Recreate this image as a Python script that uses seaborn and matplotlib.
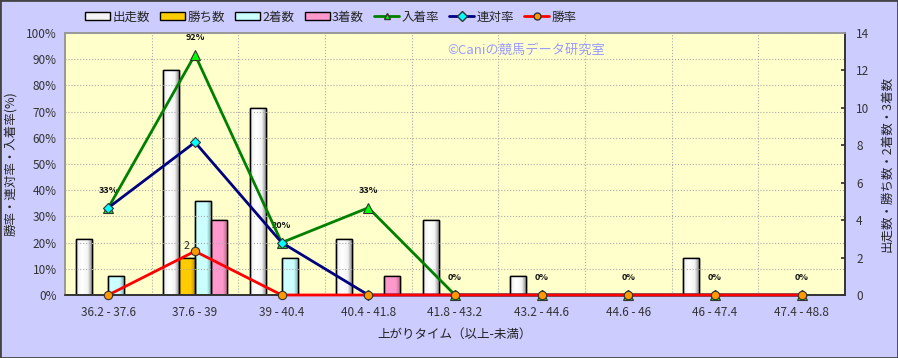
import matplotlib
matplotlib.use("Agg")
import matplotlib.pyplot as plt
import numpy as np
import pandas as pd
import seaborn as sns
from matplotlib.colors import LinearSegmentedColormap
from matplotlib.lines import Line2D
from matplotlib.patches import Rectangle
from matplotlib.ticker import MultipleLocator, PercentFormatter

# --- data ---
categories = ["36.2 - 37.6", "37.6 - 39", "39 - 40.4", "40.4 - 41.8", "41.8 - 43.2",
              "43.2 - 44.6", "44.6 - 46", "46 - 47.4", "47.4 - 48.8"]
starts = [3, 12, 10, 3, 4, 1, 0, 2, 0]
wins = [0, 2, 0, 0, 0, 0, 0, 0, 0]
seconds = [1, 5, 2, 0, 0, 0, 0, 0, 0]
thirds = [0, 4, 0, 1, 0, 0, 0, 0, 0]
place_rate = [0.333, 0.917, 0.20, 0.333, 0, 0, 0, 0, 0]
quinella_rate = [0.333, 0.583, 0.20, 0, 0, 0, 0, 0, 0]
win_rate = [0, 0.167, 0, 0, 0, 0, 0, 0, 0]
place_labels = ["33%", "92%", "20%", "33%", "0%", "0%", "0%", "0%", "0%"]

bar_series = ["出走数", "勝ち数", "2着数", "3着数"]
bar_colors = ["#f4f4f4", "#ffcc00", "#ccffff", "#ff99cc"]
bar_dark = ["#7a7a7a", "#b08000", "#70a0a0", "#b06080"]

sns.set_theme(style="white")
plt.rcParams["font.family"] = ["Noto Sans CJK JP", "DejaVu Sans"]

bars = pd.DataFrame({
    "区間": np.tile(categories, 4),
    "系列": np.repeat(bar_series, len(categories)),
    "頭数": starts + wins + seconds + thirds,
})

fig = plt.figure(figsize=(8.98, 3.58), dpi=100, facecolor="#ccccff")
ax = fig.add_axes([65 / 898, 1 - 295 / 358, 780 / 898, 262 / 358])
ax.set_facecolor("#ffffcc")
ax2 = ax.twinx()

sns.barplot(data=bars, x="区間", y="頭数", hue="系列", palette=bar_colors,
            width=0.74, gap=0, edgecolor="black", linewidth=1.0, legend=False, ax=ax)

# cylinder-like shading on each bar
for i, patch in enumerate(list(ax.patches)):
    s = i // len(categories)
    h = patch.get_height()
    if h <= 0:
        continue
    x0, w = patch.get_x(), patch.get_width()
    cmap = LinearSegmentedColormap.from_list(
        "g", [(0, bar_dark[s]), (0.12, bar_colors[s]), (0.35, "white" if s == 0 else bar_colors[s]),
              (0.7, bar_colors[s]), (1, bar_dark[s])])
    img = ax.imshow(np.linspace(0, 1, 64).reshape(1, -1), cmap=cmap, aspect="auto",
                    extent=(x0, x0 + w, 0, h), zorder=patch.get_zorder() + 0.1)
    img.set_clip_path(patch)
    ax.add_patch(Rectangle((x0, 0), w, h, fill=False, edgecolor="black", lw=1.0,
                           zorder=patch.get_zorder() + 0.2))

ax.set_xlim(-0.5, len(categories) - 0.5)
ax.set_ylim(0, 14)
ax.yaxis.set_major_locator(MultipleLocator(2))
ax.yaxis.tick_right()
ax.yaxis.set_label_position("right")
ax.set_ylabel("出走数・勝ち数・2着数・3着数", fontsize=9, rotation=90, labelpad=8)
ax.set_xlabel("上がりタイム（以上-未満）", fontsize=9, color="#222222", labelpad=6)
ax.tick_params(axis="x", labelsize=8.5, colors="#333333", length=0, pad=8)
ax.tick_params(axis="y", labelsize=8.5, colors="#333333", direction="in", length=3,
               left=False, right=True, labelleft=False, labelright=True, pad=8)
ax.set_xticks(np.arange(len(categories)) + 0.5, minor=True)
ax.tick_params(axis="x", which="minor", length=0)
ax.grid(True, which="minor", axis="x", color="#aaaaaa", ls=":", lw=0.8)

# gold bar value label
for i, v in enumerate(wins):
    if v > 0:
        ax.text(i - 0.0925, v + 0.35, str(v), ha="center", va="bottom", fontsize=7.5,
                color="#222222", zorder=6)

# rates on the left axis
ax2.yaxis.tick_left()
ax2.yaxis.set_label_position("left")
ax2.set_ylim(0, 1)
ax2.yaxis.set_major_locator(MultipleLocator(0.1))
ax2.yaxis.set_major_formatter(PercentFormatter(1.0, decimals=0))
ax2.grid(True, axis="y", color="#aaaaaa", ls=":", lw=0.8)
ax2.tick_params(axis="y", labelsize=8.5, colors="#333333", length=0, pad=6,
                left=True, right=False, labelleft=True, labelright=False)
ax2.set_ylabel("勝率・連対率・入着率(%)", fontsize=9, labelpad=6)

xs = np.arange(len(categories))
line_specs = [
    (place_rate, "#008000", "^", "#00ff00", 7),
    (quinella_rate, "#000080", "D", "#00ffff", 5),
    (win_rate, "#ff0000", "o", "#ff9900", 6),
]
for vals, col, mk, face, ms in line_specs:
    sns.lineplot(x=xs, y=vals, color=col, lw=2, marker=mk, markersize=ms,
                 markerfacecolor=face, markeredgecolor="#333333", markeredgewidth=0.8,
                 ax=ax2, zorder=5, clip_on=False)
ax2.set_xlim(-0.5, len(categories) - 0.5)

for i, (v, lab) in enumerate(zip(place_rate, place_labels)):
    ax2.text(i, v + 0.05, lab, ha="center", va="bottom", fontsize=6.5,
             fontweight="bold", color="#111111")

ax2.text(0.49, 0.935, "©Caniの競馬データ研究室", transform=ax2.transAxes, fontsize=9.5,
         color="#9999ff", ha="left", va="center")

for a in (ax, ax2):
    for side in ("top", "left"):
        a.spines[side].set_color("#999999")
    for side in ("bottom", "right"):
        a.spines[side].set_color("#333333")
    a.spines["bottom"].set_linewidth(1.2)
    a.spines["right"].set_linewidth(1.2)

handles = [Rectangle((0, 0), 1, 1, facecolor=c, edgecolor="black", lw=1) for c in bar_colors]
handles += [Line2D([], [], color=c, lw=2, marker=m, markersize=5, markerfacecolor=f,
                   markeredgecolor="#333333") for _, c, m, f, _ in line_specs]
labels = bar_series + ["入着率", "連対率", "勝率"]
fig.legend(handles, labels, loc="center left", bbox_to_anchor=(80 / 898, 1 - 17 / 358),
           ncol=7, frameon=False, fontsize=9, handlelength=2.0, handleheight=0.6,
           handletextpad=0.2, columnspacing=0.8, borderaxespad=0)

fig.patches.append(Rectangle((0, 0), 1, 1, transform=fig.transFigure, fill=False,
                             edgecolor="#444444", lw=2))

fig.savefig("out.png", dpi=100, facecolor=fig.get_facecolor())
